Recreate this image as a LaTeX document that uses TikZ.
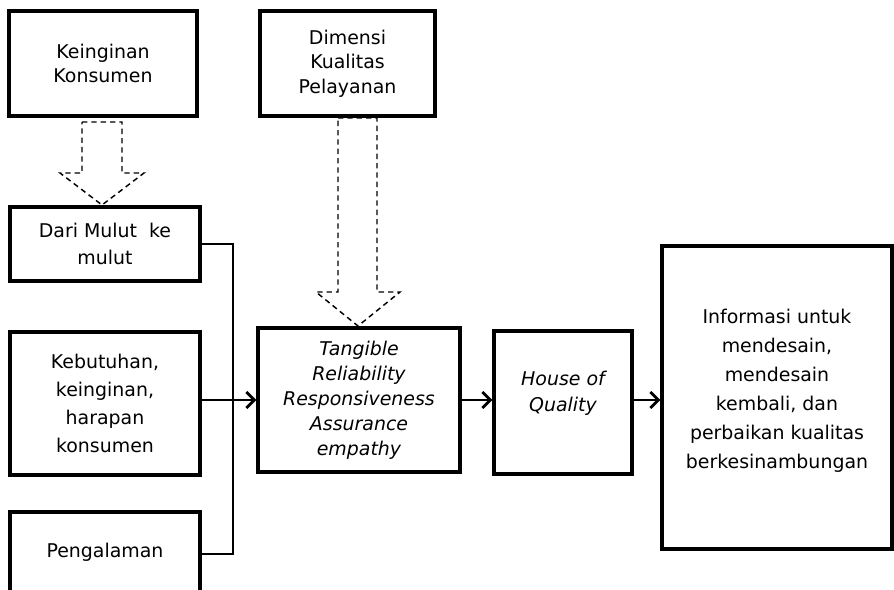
\documentclass[tikz,border=0pt]{standalone}
\usepackage{fontspec}
\setmainfont{DejaVu Sans}
\usetikzlibrary{arrows.meta}
\tikzset{
  box/.style={draw, line width=2.6pt, align=center, inner sep=0pt, font=\fontsize{14.2}{20}\selectfont},
  conn/.style={line width=2.1pt},
  arr/.style={conn, -{Straight Barb[length=6pt,width=12pt,line width=2.1pt]}},
  hollow/.style={draw, line width=1.1pt, dash pattern=on 4pt off 3pt}
}
\begin{document}
\begin{tikzpicture}[x=0.75pt, y=-0.75pt]
\clip (0,0) rectangle (894,590);
\fill[white] (0,0) rectangle (894,590);
% boxes
\node[box, minimum width=188*0.75pt, minimum height=105*0.75pt, font=\fontsize{14.2}{18}\selectfont] (kk) at (103,63.5) {Keinginan\\Konsumen};
\node[box, minimum width=175*0.75pt, minimum height=105*0.75pt, font=\fontsize{14.2}{18.5}\selectfont] (dk) at (347.5,63.5) {Dimensi\\Kualitas\\Pelayanan};
\node[box, minimum width=190*0.75pt, minimum height=74*0.75pt] (dari) at (105,244) {Dari Mulut~ ke\\mulut};
\node[box, minimum width=190*0.75pt, minimum height=143*0.75pt, font=\fontsize{14.2}{21}\selectfont] (keb) at (105,403.5) {Kebutuhan,\\keinginan,\\harapan\\konsumen};
\node[box, minimum width=190*0.75pt, minimum height=84*0.75pt] (peng) at (105,554) {\raisebox{5pt}{Pengalaman}};
\node[box, minimum width=202*0.75pt, minimum height=144*0.75pt, font=\fontsize{14.2}{18.75}\itshape\selectfont] (tang) at (359,400) {Tangible\\Reliability\\Responsiveness\\Assurance\\empathy};
\node[box, minimum width=138*0.75pt, minimum height=143*0.75pt, font=\fontsize{14.2}{19}\itshape\selectfont] (hoq) at (563,402.5) {House of\\Quality\\[-2pt]};
\node[box, minimum width=230*0.75pt, minimum height=303*0.75pt, font=\fontsize{14.2}{21.75}\selectfont] (info) at (777,397.5) {Informasi untuk\\mendesain,\\mendesain\\kembali, dan\\perbaikan kualitas\\berkesinambungan\\[-8pt]};
% hollow dashed arrows
\draw[hollow] (82,122) -- (122,122) -- (122,173) -- (144,173) -- (102,205) -- (60,173) -- (82,173) -- cycle;
\draw[hollow] (338,118) -- (377,118) -- (377,292) -- (400,292) -- (358,326) -- (316,292) -- (338,292) -- cycle;
% connectors
\coordinate (vx) at (233,0);
\draw[conn] (dari.east) -- (dari.east -| vx) -- (peng.east -| vx) -- (peng.east);
\draw[arr] (keb.east |- tang.west) -- (tang.west);
\draw[arr] (tang.east) -- (tang.east -| hoq.west);
\draw[arr] (hoq.east |- tang.east) -- (tang.east -| info.west);
\end{tikzpicture}
\end{document}
